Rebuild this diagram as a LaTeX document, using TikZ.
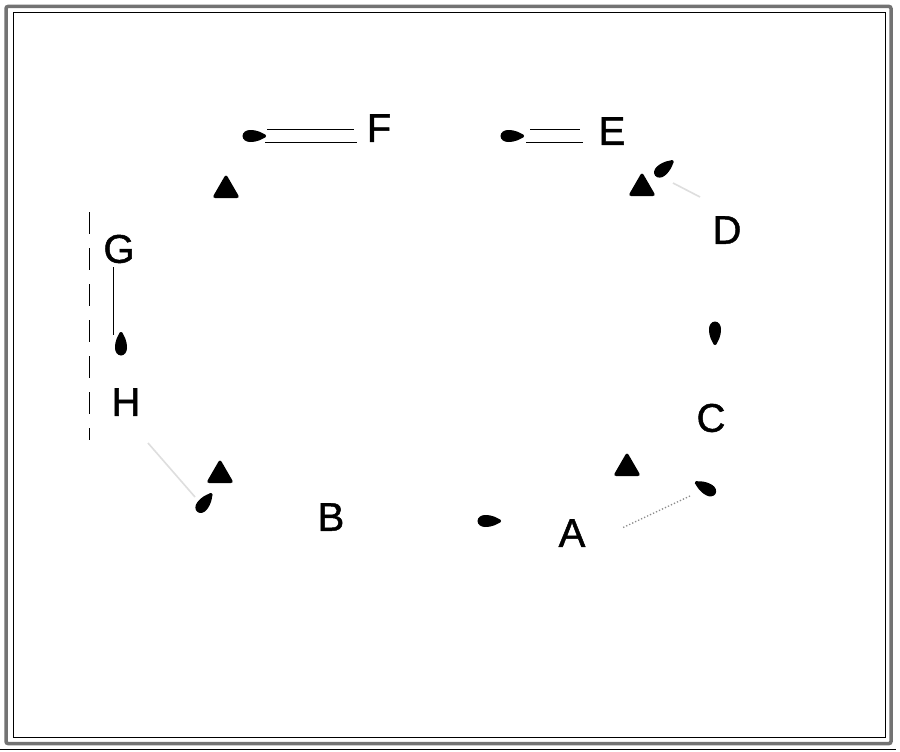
\documentclass[tikz,border=0pt]{standalone}
\usepackage{fontspec}
\setmainfont{Liberation Sans}
\newfontfamily\lblfont[FakeBold=1.2]{Liberation Sans}
\usetikzlibrary{shapes.geometric}
\newcommand\tdrop[3]{%
  \fill[shift={(#1,#2)}, rotate=#3]
    (0,-6) arc[start angle=-90, end angle=-270, x radius=7.5, y radius=6]
    .. controls (8,6) and (12,3) .. (14,2)
    arc[start angle=90, end angle=-90, radius=2]
    .. controls (12,-3) and (8,-6) .. (0,-6) -- cycle;}
\tikzset{
  lbl/.style={inner sep=0pt, font=\lblfont\fontsize{40}{40}\selectfont},
  warn/.style={regular polygon, regular polygon sides=3, fill=black,
    minimum size=32pt, inner sep=0pt, rounded corners=3pt},
  edge line/.style={line width=1pt, black},
  faint/.style={line width=1.6pt, black!13},
}
\begin{document}
\begin{tikzpicture}[x=1pt,y=-1pt]
\useasboundingbox (0,0) rectangle (900,752);
\fill[white] (0,0) rectangle (900,752);
% frame
\draw[black!55, line width=3.5pt, rounded corners=2pt] (6,6.5) rectangle (891,743.5);
\draw[black, line width=1pt] (13,13) rectangle (885,737);
\draw[black, line width=0.8pt] (0,749.5) -- (896,749.5);
% labels
\node[lbl] (A) at (572,533) {A};
\node[lbl] (B) at (331,517) {B};
\node[lbl] (C) at (711,418) {C};
\node[lbl] (D) at (727,230) {D};
\node[lbl] (E) at (612,131) {E};
\node[lbl] (F) at (379,128) {F};
\node[lbl] (G) at (119,249) {G};
\node[lbl] (H) at (126,402) {H};
% warning triangles
\node[warn] (t1) at (226,190) {};
\node[warn] (t2) at (642,188) {};
\node[warn] (t3) at (627,468) {};
\node[warn] (t4) at (220,475) {};
% connector pieces
\coordinate (f1) at (267,129); \coordinate (f2) at (354,129);
\coordinate (f3) at (265,142); \coordinate (f4) at (357,142);
\draw[edge line] (f1) -- (f2);
\draw[edge line] (f3) -- (f4);
\coordinate (e1) at (530,129); \coordinate (e2) at (580,129);
\coordinate (e3) at (526,142); \coordinate (e4) at (583,142);
\draw[edge line] (e1) -- (e2);
\draw[edge line] (e3) -- (e4);
\coordinate (g1) at (113,267); \coordinate (g2) at (113,335);
\draw[edge line] (g1) -- (g2);
\coordinate (c1) at (690,496); \coordinate (c2) at (622,528);
\draw[black!45, line width=1.3pt, dotted] (c1) -- (c2);
\coordinate (b1) at (148,443); \coordinate (b2) at (195,497);
\draw[faint] (b1) -- (b2);
\coordinate (d1) at (673,183); \coordinate (d2) at (700,197);
\draw[faint] (d1) -- (d2);
\coordinate (v1) at (89,212); \coordinate (v2) at (89,440);
\draw[black, line width=0.8pt, dash pattern=on 22pt off 14pt] (v1) -- (v2);
% arrowheads
\tdrop{250}{136}{0}
\tdrop{508}{136}{0}
\tdrop{661}{171}{40}
\tdrop{715}{329}{-90}
\tdrop{709}{490}{150}
\tdrop{485}{521}{0}
\tdrop{202}{506}{52}
\tdrop{121}{348}{90}
\end{tikzpicture}
\end{document}
